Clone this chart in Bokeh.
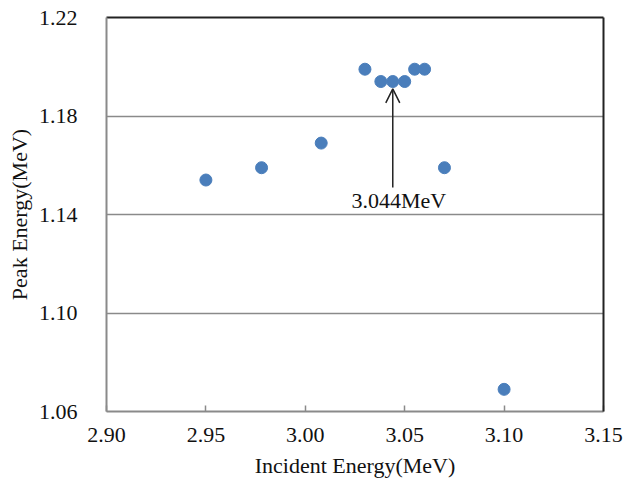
from bokeh.plotting import figure
from bokeh.models import (ColumnDataSource, LinearAxis, FixedTicker, Arrow,
                          OpenHead, Range1d, NumeralTickFormatter, Label)
from bokeh.embed import file_html
from bokeh.resources import INLINE

# Measured peak energy versus incident beam energy
incident_energy = [2.950, 2.978, 3.008, 3.030, 3.038, 3.044, 3.050, 3.055, 3.060, 3.070, 3.100]
peak_energy = [1.154, 1.159, 1.169, 1.199, 1.194, 1.194, 1.194, 1.199, 1.199, 1.159, 1.069]

x_ticks = [2.90, 2.95, 3.00, 3.05, 3.10, 3.15]
y_ticks = [1.06, 1.10, 1.14, 1.18, 1.22]

# Marked resonance
marked_energy = 3.044
marked_label = "3.044MeV"
arrow_from = 1.151
arrow_to = 1.191

FONT = "Liberation Serif"
GRAY = "#8a8a8a"

p = figure(width=629, height=483, output_backend="svg", toolbar_location=None,
           x_range=Range1d(2.90, 3.15), y_range=Range1d(1.06, 1.22),
           min_border_left=106, min_border_right=26, min_border_top=17,
           min_border_bottom=72, x_axis_label="Incident Energy(MeV)",
           y_axis_label="Peak Energy(MeV)")
p.outline_line_color = None
p.background_fill_color = "white"
p.border_fill_color = "white"

src = ColumnDataSource(dict(x=incident_energy, y=peak_energy))
p.scatter("x", "y", source=src, size=12, fill_color="#4a7ebb",
          line_color="#4a7ebb")

# Gridlines only horizontally
p.xgrid.grid_line_color = None
p.ygrid.ticker = FixedTicker(ticks=y_ticks)
p.ygrid.grid_line_color = GRAY
p.ygrid.grid_line_width = 1.5

for ax in (p.xaxis[0], p.yaxis[0]):
    ax.axis_line_color = GRAY
    ax.axis_line_width = 2
    ax.major_label_text_font = FONT
    ax.major_label_text_font_size = "22px"
    ax.major_label_text_color = "#111111"
    ax.axis_label_text_font = FONT
    ax.axis_label_text_font_size = "22px"
    ax.axis_label_text_font_style = "normal"
    ax.axis_label_text_color = "#111111"
    ax.minor_tick_line_color = None
    ax.formatter = NumeralTickFormatter(format="0.00")

p.xaxis[0].ticker = FixedTicker(ticks=x_ticks)
p.xaxis[0].major_tick_in = 6
p.xaxis[0].major_tick_out = 0
p.xaxis[0].major_tick_line_color = GRAY
p.xaxis[0].major_tick_line_width = 1.5
p.xaxis[0].major_label_standoff = 16
p.xaxis[0].axis_label_standoff = 8

p.yaxis[0].ticker = FixedTicker(ticks=y_ticks)
p.yaxis[0].major_tick_line_color = None
p.yaxis[0].major_label_standoff = 23
p.yaxis[0].axis_label_standoff = 4

# Dark frame edges on top and right
for side in ("above", "right"):
    frame_axis = LinearAxis(ticker=FixedTicker(ticks=[]), major_label_text_font_size="0px",
                            major_tick_line_color=None, minor_tick_line_color=None,
                            axis_line_color="#222222", axis_line_width=2)
    p.add_layout(frame_axis, side)

# Arrow pointing at the marked point
p.add_layout(Arrow(end=OpenHead(size=14, line_color="#222222", line_width=1.5),
                   x_start=marked_energy, y_start=arrow_from,
                   x_end=marked_energy, y_end=arrow_to,
                   line_color="#222222", line_width=1.5))
p.add_layout(Label(x=marked_energy, y=arrow_from, text=marked_label,
                   text_font=FONT, text_font_size="22px", text_color="#111111",
                   text_align="center", text_baseline="top", x_offset=6, y_offset=-1))

open("out.html", "w").write(file_html(p, INLINE))
